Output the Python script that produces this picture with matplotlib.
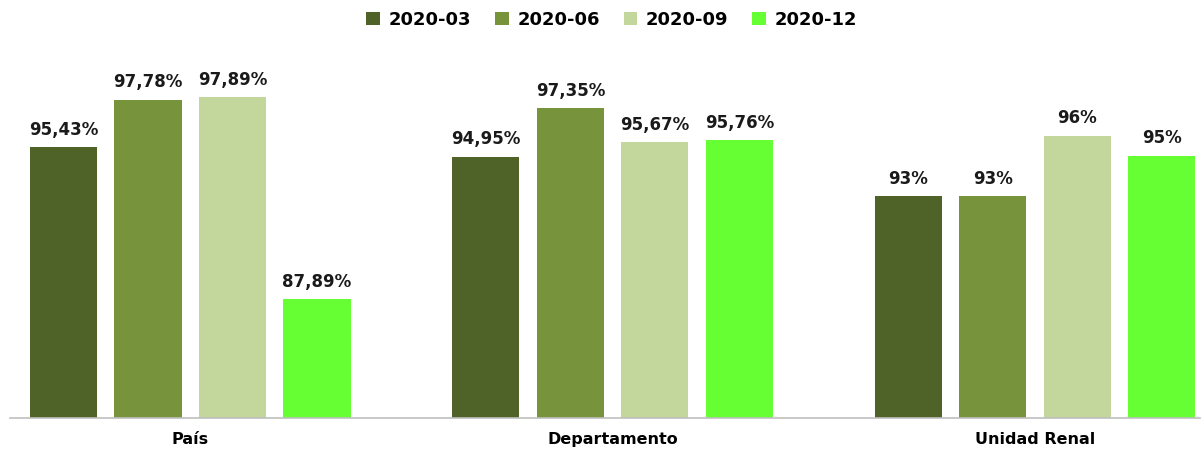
import matplotlib.pyplot as plt
import numpy as np

categories = ['País', 'Departamento', 'Unidad Renal']
series = ['2020-03', '2020-06', '2020-09', '2020-12']
values = [
    [95.43, 94.95, 93],
    [97.78, 97.35, 93],
    [97.89, 95.67, 96],
    [87.89, 95.76, 95],
]
labels = [
    ['95,43%', '94,95%', '93%'],
    ['97,78%', '97,35%', '93%'],
    ['97,89%', '95,67%', '96%'],
    ['87,89%', '95,76%', '95%'],
]
colors = ['#4F6228', '#77933C', '#C3D69B', '#66FF33']

fig = plt.figure(figsize=(12.02, 4.49), dpi=100)
ax = fig.add_axes([0.0083, 0.068, 0.9897, 0.81])

x = np.arange(len(categories))
width = 0.159
for i, s in enumerate(series):
    pos = x + (i - 1.5) * 0.2
    bars = ax.bar(pos, values[i], width, color=colors[i], label=s, zorder=2)
    for b, lab in zip(bars, labels[i]):
        ax.annotate(lab, (b.get_x() + b.get_width() / 2, b.get_height()),
                    xytext=(0, 6), textcoords='offset points',
                    ha='center', va='bottom', fontsize=12, fontweight='bold',
                    color='#1a1a1a')

ax.set_ylim(82, 100)
ax.set_xlim(-0.427, 2.39)
ax.set_xticks(x)
ax.set_xticklabels(categories, fontsize=11.5, fontweight='bold')
ax.tick_params(axis='x', length=0, pad=10)
ax.set_yticks([])
for sp in ['top', 'right', 'left']:
    ax.spines[sp].set_visible(False)
ax.spines['bottom'].set_color('#BFBFBF')
ax.spines['bottom'].set_linewidth(1.2)

leg = fig.legend(loc='upper center', bbox_to_anchor=(0.509, 1.012), ncol=4,
                 frameon=False, prop={'weight': 'bold', 'size': 13},
                 handlelength=0.75, handleheight=0.75, handletextpad=0.5,
                 columnspacing=1.3)

fig.savefig('out.png', dpi=100)
